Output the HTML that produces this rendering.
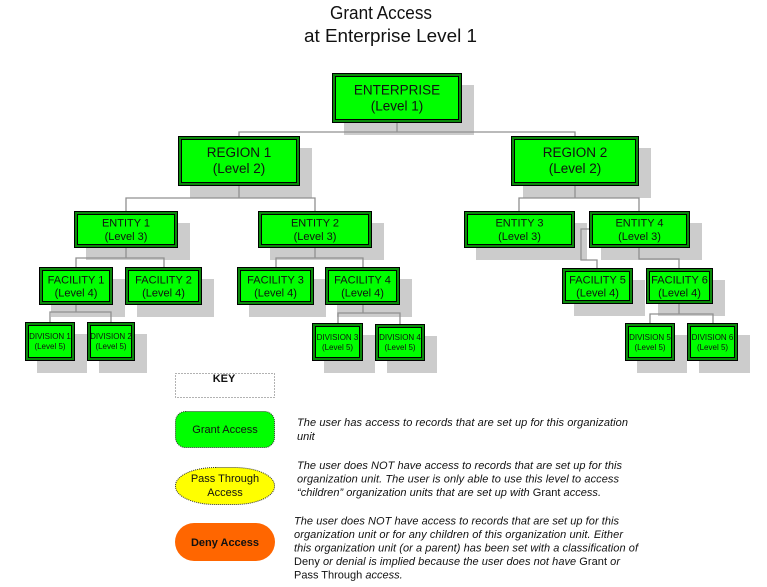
<!DOCTYPE html>
<html>
<head>
<meta charset="utf-8">
<style>
html,body{margin:0;padding:0;background:#fff;}
svg{display:block;}
text{font-family:"Liberation Sans",Arial,sans-serif;fill:#111;}
</style>
</head>
<body>
<svg width="767" height="587" viewBox="0 0 767 587" xmlns="http://www.w3.org/2000/svg">
<!-- Title -->
<text x="381" y="19" font-size="18.5" text-anchor="middle" textLength="102" lengthAdjust="spacingAndGlyphs">Grant Access</text>
<text x="390.5" y="42" font-size="18.5" text-anchor="middle" textLength="173" lengthAdjust="spacingAndGlyphs">at Enterprise Level 1</text>

<!-- Shadows -->
<g fill="#cccccc">
<rect x="344" y="85" width="130" height="50"/>
<rect x="190" y="148" width="122" height="50"/>
<rect x="523" y="148" width="128" height="50"/>
<rect x="86" y="223" width="104" height="37"/>
<rect x="270" y="223" width="114" height="37"/>
<rect x="476" y="223" width="111" height="37"/>
<rect x="601" y="223" width="101" height="37"/>
<rect x="51" y="279" width="74" height="38"/>
<rect x="137" y="279" width="77" height="38"/>
<rect x="249" y="279" width="77" height="38"/>
<rect x="337" y="279" width="75" height="38"/>
<rect x="574" y="280" width="71" height="36"/>
<rect x="658" y="280" width="67" height="36"/>
<rect x="37" y="334" width="50" height="39"/>
<rect x="99" y="334" width="48" height="39"/>
<rect x="324" y="335" width="51" height="38"/>
<rect x="387" y="336" width="50" height="37"/>
<rect x="637" y="335" width="50" height="38"/>
<rect x="699" y="335" width="51" height="38"/>
</g>

<!-- Connectors -->
<g stroke="#909090" stroke-width="1.3" fill="none">
<polyline points="397,123 397,132"/>
<polyline points="239,136 239,132 575,132 575,136"/>
<polyline points="239,186 239,198"/>
<polyline points="126,211 126,198 315,198 315,211"/>
<polyline points="575,186 575,198"/>
<polyline points="519,211 519,198 639,198 639,211"/>
<polyline points="126,248 126,258"/>
<polyline points="76,267 76,258 164,258 164,267"/>
<polyline points="315,248 315,258"/>
<polyline points="276,267 276,258 363,258 363,267"/>
<polyline points="589,229 581,229 581,260 597,260 597,268"/>
<polyline points="639,248 639,259 679,259 679,268"/>
<polyline points="76,305 76,312"/>
<polyline points="50,322 50,312 111,312 111,322"/>
<polyline points="363,305 363,313"/>
<polyline points="338,323 338,313 400,313 400,324"/>
<polyline points="679,304 679,314"/>
<polyline points="650,323 650,314 713,314 713,323"/>
</g>

<!-- Boxes -->
<g stroke="#000" stroke-width="1">
<!-- Enterprise -->
<rect x="332.5" y="73.5" width="129" height="49" fill="#0a8a0a"/>
<rect x="335.5" y="76.5" width="123" height="43" fill="#00ff00"/>
<!-- Regions -->
<rect x="178.5" y="136.5" width="121" height="49" fill="#0a8a0a"/>
<rect x="181.5" y="139.5" width="115" height="43" fill="#00ff00"/>
<rect x="511.5" y="136.5" width="127" height="49" fill="#0a8a0a"/>
<rect x="514.5" y="139.5" width="121" height="43" fill="#00ff00"/>
<!-- Entities -->
<rect x="74.5" y="211.5" width="103" height="36" fill="#0a8a0a"/>
<rect x="77.5" y="214.5" width="97" height="30" fill="#00ff00"/>
<rect x="258.5" y="211.5" width="113" height="36" fill="#0a8a0a"/>
<rect x="261.5" y="214.5" width="107" height="30" fill="#00ff00"/>
<rect x="464.5" y="211.5" width="110" height="36" fill="#0a8a0a"/>
<rect x="467.5" y="214.5" width="104" height="30" fill="#00ff00"/>
<rect x="589.5" y="211.5" width="100" height="36" fill="#0a8a0a"/>
<rect x="592.5" y="214.5" width="94" height="30" fill="#00ff00"/>
<!-- Facilities -->
<rect x="39.5" y="267.5" width="73" height="37" fill="#0a8a0a"/>
<rect x="42.5" y="270.5" width="67" height="31" fill="#00ff00"/>
<rect x="125.5" y="267.5" width="76" height="37" fill="#0a8a0a"/>
<rect x="128.5" y="270.5" width="70" height="31" fill="#00ff00"/>
<rect x="237.5" y="267.5" width="76" height="37" fill="#0a8a0a"/>
<rect x="240.5" y="270.5" width="70" height="31" fill="#00ff00"/>
<rect x="325.5" y="267.5" width="74" height="37" fill="#0a8a0a"/>
<rect x="328.5" y="270.5" width="68" height="31" fill="#00ff00"/>
<rect x="562.5" y="268.5" width="70" height="35" fill="#0a8a0a"/>
<rect x="565.5" y="271.5" width="64" height="29" fill="#00ff00"/>
<rect x="646.5" y="268.5" width="66" height="35" fill="#0a8a0a"/>
<rect x="649.5" y="271.5" width="60" height="29" fill="#00ff00"/>
<!-- Divisions -->
<rect x="25.5" y="322.5" width="49" height="38" fill="#0a8a0a"/>
<rect x="28.5" y="325.5" width="43" height="32" fill="#00ff00"/>
<rect x="87.5" y="322.5" width="47" height="38" fill="#0a8a0a"/>
<rect x="90.5" y="325.5" width="41" height="32" fill="#00ff00"/>
<rect x="312.5" y="323.5" width="50" height="37" fill="#0a8a0a"/>
<rect x="315.5" y="326.5" width="44" height="31" fill="#00ff00"/>
<rect x="375.5" y="324.5" width="49" height="36" fill="#0a8a0a"/>
<rect x="378.5" y="327.5" width="43" height="30" fill="#00ff00"/>
<rect x="625.5" y="323.5" width="49" height="37" fill="#0a8a0a"/>
<rect x="628.5" y="326.5" width="43" height="31" fill="#00ff00"/>
<rect x="687.5" y="323.5" width="50" height="37" fill="#0a8a0a"/>
<rect x="690.5" y="326.5" width="44" height="31" fill="#00ff00"/>
</g>

<!-- Box labels -->
<g text-anchor="middle">
<g font-size="13.5">
<text x="397" y="94.5">ENTERPRISE</text><text x="397" y="110.5">(Level 1)</text>
<text x="239" y="157">REGION 1</text><text x="239" y="173">(Level 2)</text>
<text x="575" y="157">REGION 2</text><text x="575" y="173">(Level 2)</text>
</g>
<g font-size="11">
<text x="126" y="226.5">ENTITY 1</text><text x="126" y="240">(Level 3)</text>
<text x="315" y="226.5">ENTITY 2</text><text x="315" y="240">(Level 3)</text>
<text x="519.5" y="226.5">ENTITY 3</text><text x="519.5" y="240">(Level 3)</text>
<text x="639.5" y="226.5">ENTITY 4</text><text x="639.5" y="240">(Level 3)</text>
<text x="76" y="283.5">FACILITY 1</text><text x="76" y="296.5">(Level 4)</text>
<text x="163.5" y="283.5">FACILITY 2</text><text x="163.5" y="296.5">(Level 4)</text>
<text x="275.5" y="283.5">FACILITY 3</text><text x="275.5" y="296.5">(Level 4)</text>
<text x="362.5" y="283.5">FACILITY 4</text><text x="362.5" y="296.5">(Level 4)</text>
<text x="597.5" y="283.5">FACILITY 5</text><text x="597.5" y="296.5">(Level 4)</text>
<text x="679.5" y="283.5">FACILITY 6</text><text x="679.5" y="296.5">(Level 4)</text>
</g>
<g font-size="8">
<text x="50" y="339">DIVISION 1</text><text x="50" y="349">(Level 5)</text>
<text x="111" y="339">DIVISION 2</text><text x="111" y="349">(Level 5)</text>
<text x="337.5" y="340">DIVISION 3</text><text x="337.5" y="350">(Level 5)</text>
<text x="400" y="340">DIVISION 4</text><text x="400" y="350">(Level 5)</text>
<text x="650" y="340">DIVISION 5</text><text x="650" y="350">(Level 5)</text>
<text x="712.5" y="340">DIVISION 6</text><text x="712.5" y="350">(Level 5)</text>
</g>
</g>

<!-- Key -->
<rect x="175.5" y="373.5" width="99" height="24" fill="none" stroke="#666" stroke-width="1" stroke-dasharray="1,2"/>
<text x="224" y="382" font-size="11" font-weight="bold" text-anchor="middle">KEY</text>

<rect x="175.5" y="411.5" width="99" height="36" rx="10" ry="10" fill="#00ff00" stroke="#333" stroke-width="1" stroke-dasharray="1,1"/>
<text x="225" y="433" font-size="11" text-anchor="middle">Grant Access</text>

<rect x="175.5" y="467.5" width="99" height="37" rx="40" ry="18" fill="#ffff00" stroke="#333" stroke-width="1" stroke-dasharray="1,1"/>
<text x="225" y="482" font-size="11" text-anchor="middle">Pass Through</text>
<text x="225" y="496" font-size="11" text-anchor="middle">Access</text>

<rect x="175" y="523" width="100" height="38" rx="19" ry="19" fill="#ff6600"/>
<text x="225" y="546" font-size="11" font-weight="bold" text-anchor="middle">Deny Access</text>

<g font-size="11" font-style="italic">
<text x="297" y="426" textLength="331" lengthAdjust="spacing">The user has access to  records that are set up for this organization</text>
<text x="297" y="440">unit</text>

<text x="297" y="469" textLength="325" lengthAdjust="spacing">The user does NOT have access to records that are set up for this</text>
<text x="297" y="482.5" textLength="322" lengthAdjust="spacing">organization unit.  The user is only able to use this level to access</text>
<text x="297" y="496" textLength="304" lengthAdjust="spacing">“children” organization units that are set up with <tspan font-style="normal">Grant</tspan> access.</text>

<text x="294" y="524.5" textLength="325" lengthAdjust="spacing">The user does NOT have access to records that are set up for this</text>
<text x="294" y="538" textLength="329" lengthAdjust="spacing">organization unit or for any children of this organization unit.  Either</text>
<text x="294" y="551.5" textLength="344" lengthAdjust="spacing">this organization unit (or a parent) has been set with a classification of</text>
<text x="294" y="565" textLength="326" lengthAdjust="spacing"><tspan font-style="normal">Deny</tspan> or denial is implied because the user does not have <tspan font-style="normal">Grant</tspan> or</text>
<text x="294" y="578.5"><tspan font-style="normal">Pass Through</tspan> access.</text>
</g>
</svg>
</body>
</html>
